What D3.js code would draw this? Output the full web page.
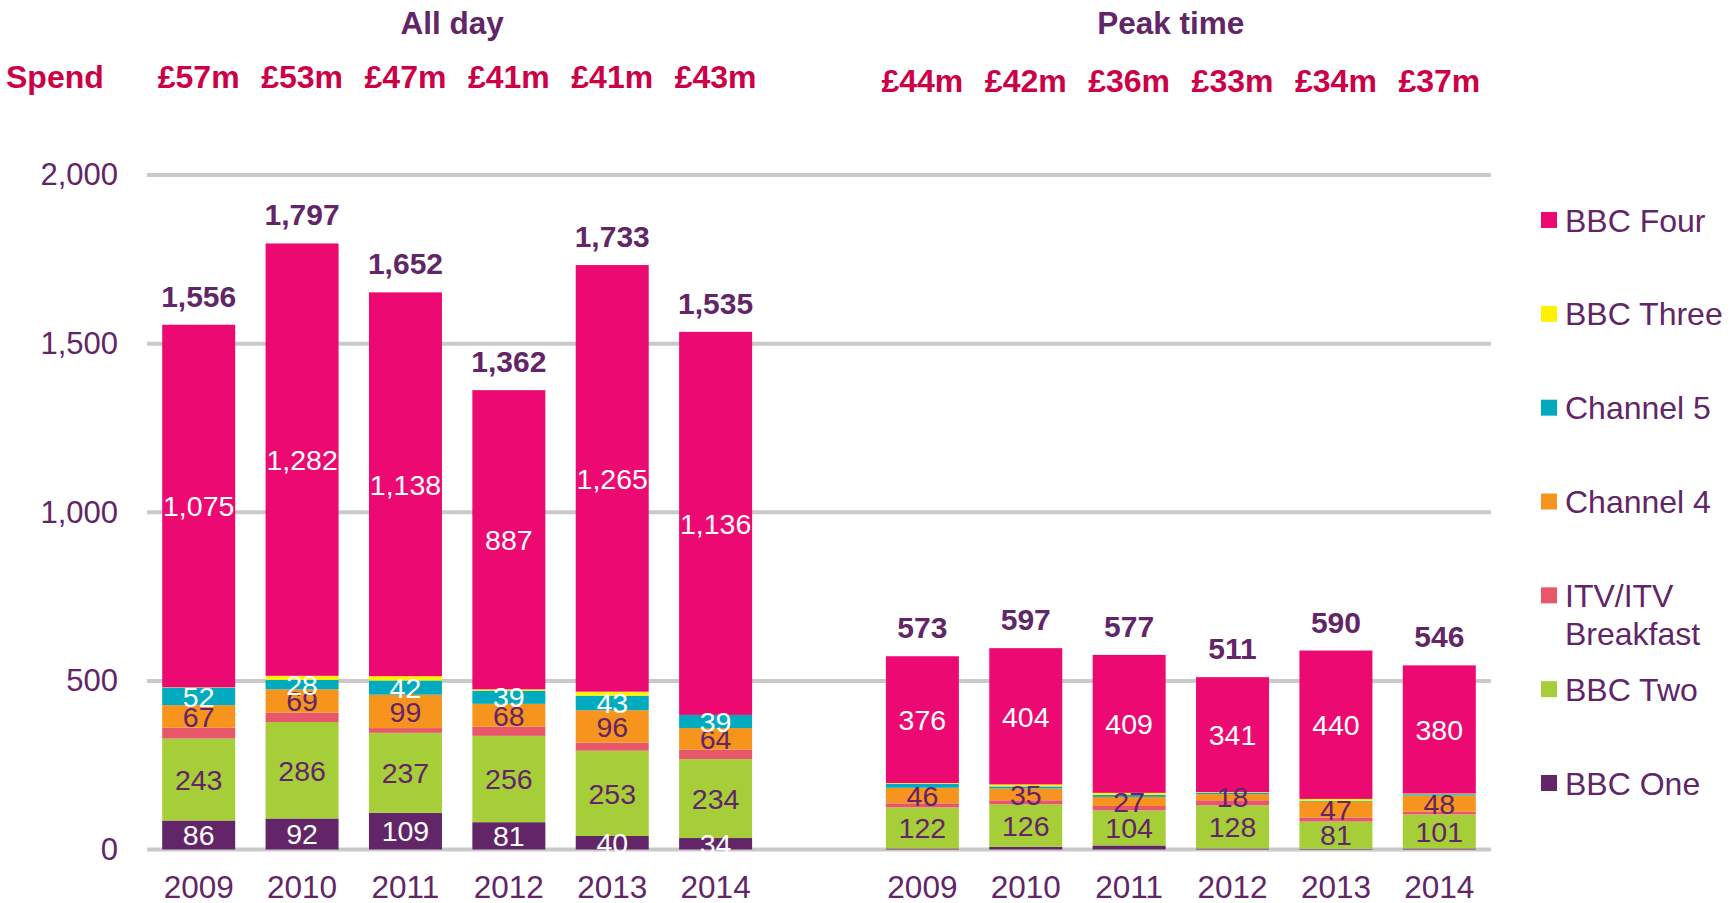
<!DOCTYPE html>
<html>
<head>
<meta charset="utf-8">
<script src="https://cdn.jsdelivr.net/npm/d3@7"></script>
<style>
  html, body { margin: 0; padding: 0; background: #fff; }
  svg { display: block; }
  text { font-family: "Liberation Sans", Arial, sans-serif; }
</style>
</head>
<body>
<svg id="chart" width="1732" height="903"></svg>
<script>
// ---------------- DATA ----------------
const years = ["2009", "2010", "2011", "2012", "2013", "2014"];
const seriesNames = ["BBC One", "BBC Two", "ITV/ITV Breakfast", "Channel 4", "Channel 5", "BBC Three", "BBC Four"];
const seriesColors = ["#622567", "#a6ce39", "#e8566a", "#f7941d", "#00aabf", "#fff200", "#ec0a72"];
const legendOrder = ["BBC Four", "BBC Three", "Channel 5", "Channel 4", "ITV/ITV Breakfast", "BBC Two", "BBC One"];

// All day
const allBBCOne   = [86, 92, 109, 81, 40, 34];
const allBBCTwo   = [243, 286, 237, 256, 253, 234];
const allITV      = [32, 28, 14, 27, 24, 28];
const allCh4      = [67, 69, 99, 68, 96, 64];
const allCh5      = [52, 28, 42, 39, 43, 39];
const allBBCThree = [1, 12, 13, 4, 12, 0];
const allBBCFour  = [1075, 1282, 1138, 887, 1265, 1136];
const allTotals   = [1556, 1797, 1652, 1362, 1733, 1535];
const allSpend    = ["£57m", "£53m", "£47m", "£41m", "£41m", "£43m"];
const allLabelled = ["BBC One", "BBC Two", "Channel 4", "Channel 5", "BBC Four"];

// Peak time
const pkBBCOne   = [3, 8, 12, 3, 2, 3];
const pkBBCTwo   = [122, 126, 104, 128, 81, 101];
const pkITV      = [12, 12, 13, 15, 12, 8];
const pkCh4      = [46, 35, 27, 18, 47, 48];
const pkCh5      = [12, 6, 6, 4, 2, 4];
const pkBBCThree = [2, 6, 6, 2, 6, 2];
const pkBBCFour  = [376, 404, 409, 341, 440, 380];
const pkTotals   = [573, 597, 577, 511, 590, 546];
const pkSpend    = ["£44m", "£42m", "£36m", "£33m", "£34m", "£37m"];
const pkLabelled = ["BBC Two", "Channel 4", "BBC Four"];

const yTicks = [0, 500, 1000, 1500, 2000];

// ---------------- BUILD ROWS ----------------
const allSeries = [allBBCOne, allBBCTwo, allITV, allCh4, allCh5, allBBCThree, allBBCFour];
const pkSeries  = [pkBBCOne, pkBBCTwo, pkITV, pkCh4, pkCh5, pkBBCThree, pkBBCFour];

const rows = [];
years.forEach((yr, i) => {
  const r = { key: "A" + yr, year: yr, group: "all", total: allTotals[i], spend: allSpend[i], labelled: allLabelled };
  seriesNames.forEach((s, j) => r[s] = allSeries[j][i]);
  rows.push(r);
});
years.forEach((yr, i) => {
  const r = { key: "P" + yr, year: yr, group: "peak", total: pkTotals[i], spend: pkSpend[i], labelled: pkLabelled };
  seriesNames.forEach((s, j) => r[s] = pkSeries[j][i]);
  rows.push(r);
});
const domainKeys = years.map(y => "A" + y).concat(["gap"], years.map(y => "P" + y));

// ---------------- SCALES ----------------
const svg = d3.select("#chart");
const purple = "#622567";
const crimson = "#cc0046";
const FONT = '"Liberation Sans", Arial, sans-serif';

const x = d3.scaleBand().domain(domainKeys).range([147, 1491]).paddingInner(0.294).paddingOuter(0.147);
const y = d3.scaleLinear().domain([0, 2000]).range([849.5, 175]);
const color = d3.scaleOrdinal().domain(seriesNames).range(seriesColors);

// gridlines
svg.append("g").selectAll("line").data(yTicks).join("line")
  .attr("x1", x.range()[0]).attr("x2", x.range()[1])
  .attr("y1", d => y(d)).attr("y2", d => y(d))
  .attr("stroke", "#c9c9c9").attr("stroke-width", 4);

// y axis labels
const yAxis = svg.append("g").attr("transform", `translate(${x.range()[0]},0)`)
  .call(d3.axisLeft(y).tickValues(yTicks).tickFormat(d3.format(",")).tickSize(0).tickPadding(29));
yAxis.select(".domain").remove();
yAxis.selectAll("text").attr("fill", purple).style("font-size", "31px").style("font-family", FONT);

// x axis labels
const xAxis = svg.append("g").attr("transform", `translate(0,${y(0)})`)
  .call(d3.axisBottom(x).tickValues(domainKeys.filter(k => k !== "gap")).tickFormat(k => k.slice(1)).tickSize(0).tickPadding(26));
xAxis.select(".domain").remove();
xAxis.selectAll("text").attr("fill", purple).style("font-size", "31.5px").style("font-family", FONT);

// stacked bars
const stack = d3.stack().keys(seriesNames);
const stacked = stack(rows);

const layers = svg.append("g").selectAll("g").data(stacked).join("g")
  .attr("fill", d => color(d.key));
layers.selectAll("rect").data(d => d).join("rect")
  .attr("x", d => x(d.data.key))
  .attr("width", x.bandwidth())
  .attr("y", d => y(d[1]))
  .attr("height", d => Math.max(0, y(d[0]) - y(d[1])));

// segment labels
const labelColor = { "BBC One": "#fff", "BBC Two": purple, "Channel 4": purple, "Channel 5": "#fff", "BBC Four": "#fff" };
const segLabels = [];
stacked.forEach(layer => {
  layer.forEach(d => {
    if (d.data.labelled.includes(layer.key)) {
      segLabels.push({ key: d.data.key, series: layer.key, v0: d[0], v1: d[1], value: d.data[layer.key] });
    }
  });
});
svg.append("g").selectAll("text").data(segLabels).join("text")
  .attr("x", d => x(d.key) + x.bandwidth() / 2)
  .attr("y", d => y((d.v0 + d.v1) / 2))
  .attr("dy", "0.36em")
  .attr("text-anchor", "middle")
  .attr("fill", d => labelColor[d.series])
  .style("font-size", "28.5px")
  .text(d => d3.format(",")(d.value));

// totals
svg.append("g").selectAll("text").data(rows).join("text")
  .attr("x", d => x(d.key) + x.bandwidth() / 2)
  .attr("y", d => y(d.total) - 18)
  .attr("text-anchor", "middle")
  .attr("fill", purple)
  .style("font-size", "30px").style("font-weight", "bold")
  .text(d => d3.format(",")(d.total));

// spend row
svg.append("g").selectAll("text").data(rows).join("text")
  .attr("x", d => x(d.key) + x.bandwidth() / 2)
  .attr("y", d => d.group === "all" ? 88 : 92)
  .attr("text-anchor", "middle")
  .attr("fill", crimson)
  .style("font-size", "32px").style("font-weight", "bold")
  .text(d => d.spend);

svg.append("text").attr("x", 6).attr("y", 88)
  .attr("fill", crimson).style("font-size", "32px").style("font-weight", "bold")
  .text("Spend");

// group titles
const allCenter = (x("A2009") + x("A2014") + x.bandwidth()) / 2;
const pkCenter = (x("P2009") + x("P2014") + x.bandwidth()) / 2;
svg.append("text").attr("x", allCenter - 5).attr("y", 34).attr("text-anchor", "middle")
  .attr("fill", purple).style("font-size", "31.5px").style("font-weight", "bold").text("All day");
svg.append("text").attr("x", pkCenter - 10).attr("y", 34).attr("text-anchor", "middle")
  .attr("fill", purple).style("font-size", "31.5px").style("font-weight", "bold").text("Peak time");

// legend
const legY = d3.scalePoint().domain(legendOrder).range([220, 783]);
const leg = svg.append("g").selectAll("g").data(legendOrder).join("g")
  .attr("transform", d => `translate(1541,${legY(d)})`);
leg.append("rect").attr("x", 0).attr("y", -8).attr("width", 16).attr("height", 16)
  .attr("fill", d => color(d));
leg.append("text").attr("x", 24).attr("y", 0).attr("dy", "0.36em")
  .attr("fill", purple).style("font-size", "32px")
  .each(function(d) {
    const t = d3.select(this);
    if (d === "ITV/ITV Breakfast") {
      t.append("tspan").attr("x", 24).text("ITV/ITV");
      t.append("tspan").attr("x", 24).attr("dy", "1.2em").text("Breakfast");
    } else {
      t.text(d);
    }
  });
</script>
</body>
</html>
